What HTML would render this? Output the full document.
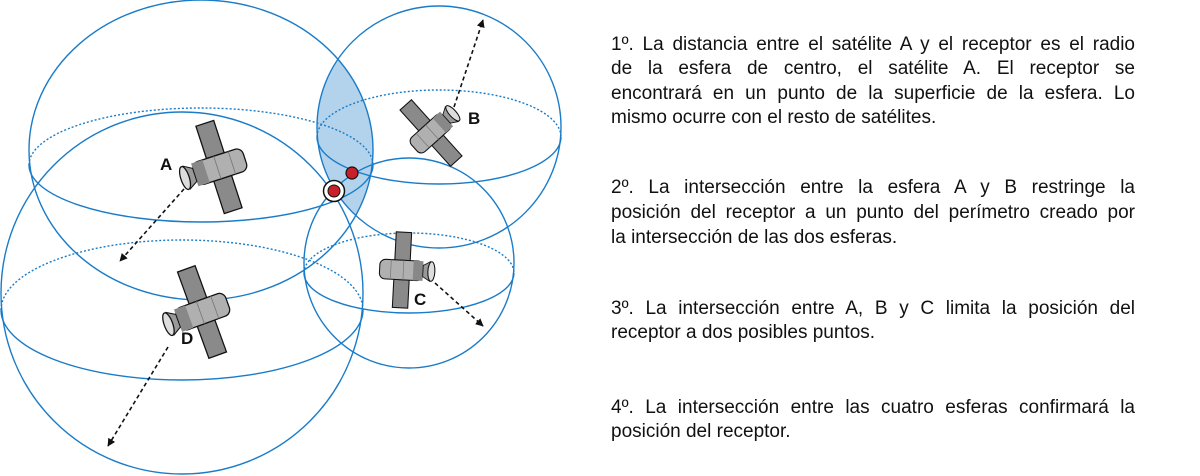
<!DOCTYPE html>
<html><head><meta charset="utf-8"><style>
html,body{margin:0;padding:0;background:#fff;}
body{width:1200px;height:476px;position:relative;overflow:hidden;font-family:"Liberation Sans",sans-serif;}
.l{position:absolute;left:611px;width:524px;font-size:19px;line-height:20px;color:#111;text-align:justify;text-align-last:justify;white-space:nowrap;}
.l.e{text-align-last:left;}
svg{position:absolute;left:0;top:0;}
.lab{font-family:"Liberation Sans",sans-serif;font-weight:bold;font-size:17px;fill:#111;}
</style></head><body>
<svg width="600" height="476" viewBox="0 0 600 476">
<defs>
<clipPath id="cA"><ellipse cx="201" cy="150" rx="172" ry="150"/></clipPath>
<marker id="ar" viewBox="0 0 10 10" refX="9" refY="5" markerWidth="5" markerHeight="5" orient="auto-start-reverse"><path d="M0,0L10,5L0,10z" fill="#111"/></marker>
<g id="sat">
<rect x="-11" y="-54" width="22" height="40" fill="#8a8a8a" stroke="#111" stroke-width="1.5"/>
<rect x="-11" y="14" width="22" height="40" fill="#8a8a8a" stroke="#111" stroke-width="1.5"/>
<rect x="-30" y="-14" width="62" height="28" rx="8" fill="#b0b0b0" stroke="#111" stroke-width="1.5"/>
<rect x="-30" y="-14" width="14" height="28" fill="#888"/>
<line x1="-2" y1="-14" x2="-2" y2="14" stroke="#777"/>
<line x1="16" y1="-14" x2="16" y2="14" stroke="#777"/>
<path d="M-30,-8 L-40,-14 L-40,14 L-30,8z" fill="#999" stroke="#111" stroke-width="1.2"/>
<ellipse cx="-42" cy="0" rx="5" ry="14" fill="#ddd" stroke="#111" stroke-width="1.5"/>
</g>
</defs>
<ellipse cx="439" cy="127" rx="122" ry="121" fill="#b3d3ec" clip-path="url(#cA)"/>
<g fill="none" stroke="#1a7cc8" stroke-width="1.4">
<ellipse cx="201" cy="150" rx="172" ry="150"/>
<ellipse cx="439" cy="127" rx="122" ry="121"/>
<ellipse cx="409" cy="263" rx="105" ry="105"/>
<ellipse cx="182" cy="293" rx="181" ry="181"/>
<path d="M29,165 A172,57 0 0 0 373,165"/>
<path d="M29,165 A172,57 0 0 1 373,165" stroke-dasharray="2,2"/>
<path d="M317,137 A122,47 0 0 0 561,137"/>
<path d="M317,137 A122,47 0 0 1 561,137" stroke-dasharray="2,2"/>
<path d="M304,273 A105,40 0 0 0 514,273"/>
<path d="M304,273 A105,40 0 0 1 514,273" stroke-dasharray="2,2"/>
<path d="M1,310 A181,70 0 0 0 363,310"/>
<path d="M1,310 A181,70 0 0 1 363,310" stroke-dasharray="2,2"/>
</g>
<g stroke="#111" stroke-width="1.6" stroke-dasharray="4,3" fill="none" marker-end="url(#ar)">
<line x1="184" y1="189" x2="120" y2="261"/>
<line x1="454" y1="107" x2="483" y2="20"/>
<line x1="435" y1="283" x2="483" y2="326"/>
<line x1="168" y1="347" x2="108" y2="446"/>
</g>
<use href="#sat" transform="translate(219,167) rotate(-18) scale(0.85)"/>
<use href="#sat" transform="translate(431,133) rotate(-42) scale(-0.7,0.7)"/>
<use href="#sat" transform="translate(402,270) rotate(3) scale(-0.7,0.7)"/>
<use href="#sat" transform="translate(202,312) rotate(-20) scale(0.85)"/>
<circle cx="352" cy="173" r="6" fill="#c8202a" stroke="#111" stroke-width="1.2"/>
<circle cx="334" cy="191" r="10.5" fill="#fff" stroke="#111" stroke-width="1.5"/>
<circle cx="334" cy="191" r="6" fill="#c8202a" stroke="#111" stroke-width="1"/>
<text class="lab" x="160" y="170">A</text>
<text class="lab" x="468" y="124">B</text>
<text class="lab" x="414" y="305">C</text>
<text class="lab" x="181" y="344">D</text>
</svg>
<div class="l" style="top:35px">1º. La distancia entre el satélite A y el receptor es el radio</div>
<div class="l" style="top:59px">de la esfera de centro, el satélite A. El receptor se</div>
<div class="l" style="top:84px">encontrará en un punto de la superficie de la esfera. Lo</div>
<div class="l e" style="top:108px">mismo ocurre con el resto de satélites.</div>
<div class="l" style="top:178px">2º. La intersección entre la esfera A y B restringe la</div>
<div class="l" style="top:203px">posición del receptor a un punto del perímetro creado por</div>
<div class="l e" style="top:228px">la intersección de las dos esferas.</div>
<div class="l" style="top:299px">3º. La intersección entre A, B y C limita la posición del</div>
<div class="l e" style="top:323px">receptor a dos posibles puntos.</div>
<div class="l" style="top:398px">4º. La intersección entre las cuatro esferas confirmará la</div>
<div class="l e" style="top:422px">posición del receptor.</div>
</body></html>
